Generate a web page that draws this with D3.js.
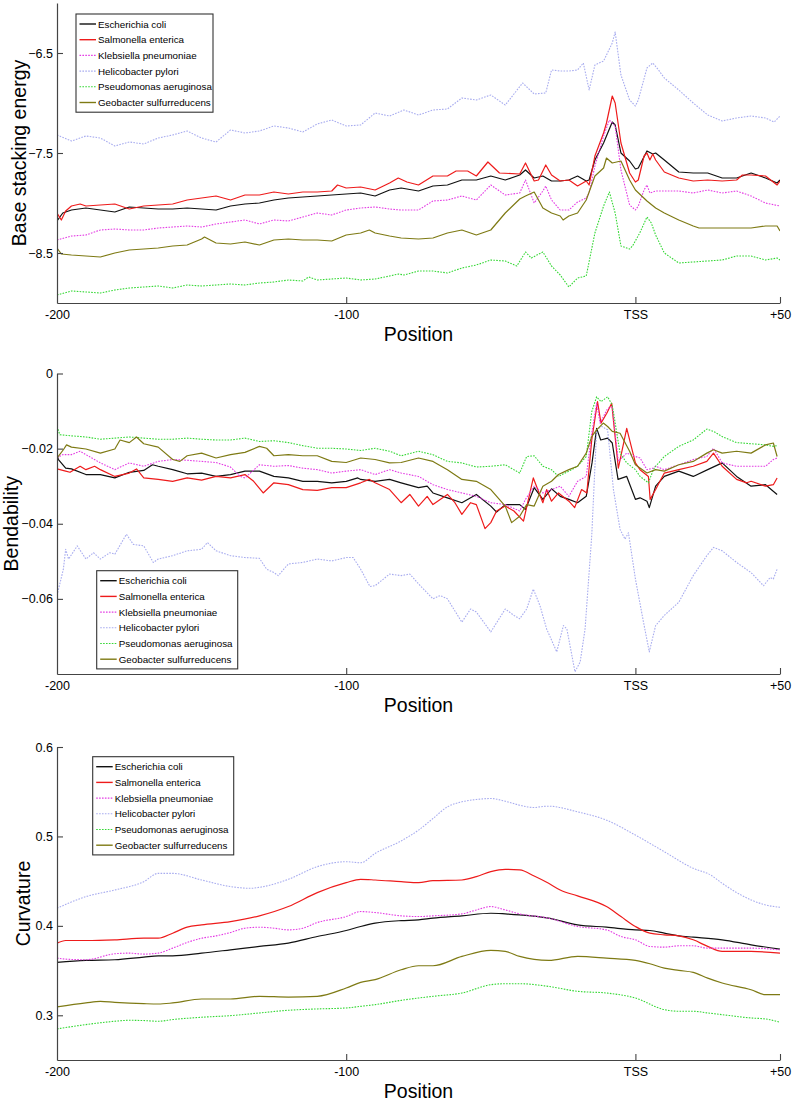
<!DOCTYPE html>
<html>
<head>
<meta charset="utf-8">
<title>Promoter structural profiles</title>
<script src="https://d3js.org/d3.v7.min.js"></script>
<style>
  body { margin: 0; background: white; }
  svg text { font-family: "Liberation Sans", Arial, Helvetica, sans-serif; fill: black; }
</style>
</head>
<body>
<svg id="chart" width="794" height="1102"></svg>
<script>
// species, same order in every panel (and in the legends)
var species = ["Escherichia coli", "Salmonella enterica", "Klebsiella pneumoniae",
               "Helicobacter pylori", "Pseudomonas aeruginosa", "Geobacter sulfurreducens"];
var colors = ["#111111", "#ee1b1b", "#e43ce4", "#a8acef", "#35d835", "#7e7a14"];
var dashes = [null, null, "1.6,1.3", "1.6,1.3", "1.6,1.3", null];

var xTicks = [-200, -100, 0, 50];
var xTickLabels = ["-200", "-100", "TSS", "+50"];

// ---- panel 1: base stacking energy, [position, value]
var ecoliBSE = [[-200,-8.18],[-198,-8.10],[-195,-8.07],[-190,-8.05],[-185,-8.07],[-180,-8.09],[-175,-8.04],[-170,-8.05],[-165,-8.06],[-160,-8.06],[-155,-8.05],[-150,-8.06],[-145,-8.07],[-140,-8.03],[-135,-8.01],[-130,-8.00],[-125,-7.97],[-120,-7.95],[-115,-7.94],[-110,-7.93],[-105,-7.92],[-100,-7.91],[-95,-7.90],[-90,-7.93],[-85,-7.87],[-81,-7.85],[-75,-7.88],[-70,-7.83],[-65,-7.82],[-60,-7.77],[-55,-7.77],[-50,-7.73],[-45,-7.77],[-40,-7.72],[-38,-7.67],[-35,-7.75],[-32,-7.73],[-29,-7.78],[-26,-7.78],[-23,-7.77],[-20,-7.73],[-17,-7.78],[-16,-7.77],[-14,-7.57],[-11,-7.40],[-8,-7.19],[-7,-7.22],[-5,-7.50],[-2,-7.58],[0,-7.66],[1,-7.65],[4,-7.48],[6,-7.51],[7,-7.50],[10,-7.57],[15,-7.69],[20,-7.70],[25,-7.70],[30,-7.75],[35,-7.75],[40,-7.70],[45,-7.75],[49,-7.80],[50,-7.77]];
var salmoBSE = [[-200,-8.10],[-198.5,-8.17],[-197,-8.08],[-195,-8.03],[-192,-8.01],[-190,-8.03],[-185,-8.02],[-180,-8.01],[-175,-8.06],[-170,-8.03],[-165,-8.02],[-160,-8.01],[-155,-7.97],[-150,-7.95],[-145,-7.93],[-140,-7.97],[-135,-7.92],[-130,-7.92],[-125,-7.89],[-120,-7.91],[-115,-7.89],[-110,-7.89],[-105,-7.88],[-103,-7.82],[-100,-7.85],[-95,-7.84],[-90,-7.87],[-85,-7.80],[-82,-7.75],[-79,-7.79],[-75,-7.82],[-70,-7.73],[-65,-7.73],[-62,-7.68],[-58,-7.68],[-55,-7.73],[-51,-7.59],[-47,-7.70],[-40,-7.71],[-38,-7.60],[-35,-7.78],[-33.5,-7.77],[-31,-7.62],[-29,-7.72],[-26,-7.78],[-23,-7.77],[-20,-7.83],[-17,-7.78],[-16,-7.82],[-14,-7.53],[-11,-7.30],[-10,-7.20],[-8,-6.93],[-7,-7.00],[-5,-7.40],[-2,-7.70],[0,-7.79],[1,-7.77],[3,-7.53],[4,-7.50],[5,-7.57],[6,-7.51],[7,-7.57],[10,-7.69],[15,-7.75],[20,-7.78],[25,-7.77],[30,-7.78],[35,-7.77],[37,-7.72],[40,-7.72],[45,-7.73],[49,-7.82],[50,-7.78]];
var klebBSE = [[-200,-8.37],[-195,-8.33],[-190,-8.32],[-185,-8.27],[-180,-8.26],[-175,-8.27],[-170,-8.27],[-165,-8.25],[-160,-8.24],[-155,-8.23],[-150,-8.24],[-145,-8.21],[-140,-8.19],[-135,-8.17],[-130,-8.21],[-125,-8.17],[-120,-8.18],[-115,-8.14],[-110,-8.10],[-105,-8.12],[-100,-8.07],[-95,-8.05],[-90,-8.04],[-85,-8.06],[-81,-8.07],[-75,-8.07],[-70,-7.98],[-65,-7.97],[-60,-7.93],[-55,-7.97],[-50,-7.82],[-45,-7.92],[-40,-7.90],[-38,-7.77],[-35,-8.00],[-32,-7.88],[-31,-7.83],[-29,-7.97],[-26,-8.07],[-23,-8.07],[-20,-7.99],[-17,-7.95],[-16,-7.90],[-14,-7.63],[-11,-7.33],[-9,-7.17],[-7,-7.23],[-5,-7.67],[-2,-8.02],[0,-8.07],[1,-8.03],[3,-7.87],[4,-7.82],[5,-7.90],[7,-7.88],[10,-7.88],[15,-7.88],[20,-7.90],[25,-7.87],[30,-7.90],[35,-7.88],[40,-7.93],[45,-8.00],[50,-8.03]];
var heliBSE = [[-200,-7.32],[-195,-7.38],[-190,-7.33],[-185,-7.35],[-180,-7.43],[-175,-7.39],[-170,-7.41],[-165,-7.35],[-160,-7.32],[-155,-7.28],[-150,-7.35],[-145,-7.39],[-140,-7.27],[-135,-7.30],[-130,-7.28],[-125,-7.23],[-120,-7.25],[-115,-7.29],[-110,-7.21],[-105,-7.17],[-100,-7.23],[-95,-7.22],[-90,-7.10],[-85,-7.13],[-80,-7.07],[-75,-7.12],[-70,-7.07],[-65,-7.06],[-60,-6.95],[-55,-6.97],[-50,-6.92],[-45,-7.02],[-39,-6.80],[-35,-6.91],[-31,-6.90],[-29,-6.67],[-26,-6.68],[-23,-6.68],[-20,-6.67],[-18,-6.60],[-16,-6.87],[-14,-6.62],[-11,-6.58],[-8,-6.40],[-7,-6.29],[-5,-6.72],[-2,-6.97],[0,-7.03],[1,-6.97],[4,-6.65],[6,-6.60],[8,-6.67],[10,-6.75],[15,-6.87],[20,-7.00],[25,-7.12],[30,-7.18],[35,-7.15],[40,-7.13],[45,-7.15],[48,-7.19],[50,-7.13]];
var pseuBSE = [[-200,-8.92],[-195,-8.88],[-190,-8.89],[-185,-8.90],[-180,-8.87],[-175,-8.85],[-170,-8.84],[-165,-8.83],[-160,-8.85],[-155,-8.82],[-150,-8.83],[-145,-8.82],[-140,-8.81],[-135,-8.82],[-130,-8.80],[-125,-8.79],[-120,-8.77],[-115,-8.78],[-113,-8.74],[-110,-8.77],[-105,-8.76],[-100,-8.75],[-95,-8.77],[-90,-8.76],[-85,-8.73],[-82,-8.71],[-80,-8.72],[-75,-8.68],[-70,-8.68],[-65,-8.70],[-60,-8.65],[-55,-8.62],[-50,-8.57],[-45,-8.58],[-41,-8.63],[-38,-8.49],[-36,-8.55],[-32,-8.49],[-29,-8.63],[-26,-8.72],[-23,-8.84],[-20,-8.75],[-17,-8.73],[-14,-8.30],[-11,-8.03],[-9,-7.89],[-7,-8.10],[-5,-8.43],[-2,-8.46],[-1,-8.43],[1.5,-8.30],[4,-8.14],[5.5,-8.20],[7,-8.32],[10,-8.50],[15,-8.60],[20,-8.59],[25,-8.58],[30,-8.57],[35,-8.53],[40,-8.53],[45,-8.57],[49,-8.55],[50,-8.57]];
var geoBSE = [[-200,-8.45],[-198.5,-8.51],[-195,-8.52],[-190,-8.53],[-185,-8.54],[-180,-8.50],[-175,-8.47],[-170,-8.46],[-165,-8.45],[-160,-8.43],[-155,-8.42],[-150,-8.36],[-149,-8.34],[-145,-8.40],[-140,-8.41],[-135,-8.39],[-130,-8.42],[-125,-8.37],[-120,-8.36],[-115,-8.37],[-110,-8.37],[-105,-8.38],[-100,-8.32],[-95,-8.30],[-92,-8.27],[-90,-8.30],[-85,-8.33],[-81,-8.35],[-75,-8.36],[-70,-8.35],[-65,-8.30],[-60,-8.27],[-55,-8.32],[-50,-8.27],[-45,-8.10],[-40,-7.96],[-38,-7.93],[-35,-7.89],[-32,-8.05],[-29,-8.10],[-26,-8.13],[-25,-8.17],[-23,-8.13],[-20,-8.10],[-17,-7.97],[-14,-7.73],[-11,-7.65],[-10,-7.55],[-8,-7.60],[-5,-7.58],[-2,-7.77],[0,-7.87],[4,-7.98],[7,-8.05],[10,-8.10],[15,-8.17],[20,-8.23],[22,-8.25],[25,-8.25],[30,-8.25],[35,-8.25],[40,-8.25],[45,-8.23],[49,-8.23],[50,-8.28]];

// ---- panel 2: bendability
var ecoliBend = [[-200,-0.0219],[-199.5,-0.0229],[-197,-0.0252],[-195,-0.0254],[-190,-0.0269],[-185,-0.0269],[-180,-0.0278],[-175,-0.0263],[-170,-0.0258],[-167,-0.0243],[-165,-0.0247],[-160,-0.0256],[-155,-0.0267],[-150,-0.0265],[-145,-0.0274],[-140,-0.0269],[-135,-0.0260],[-130,-0.0260],[-125,-0.0274],[-120,-0.0278],[-115,-0.0287],[-110,-0.0287],[-105,-0.0291],[-100,-0.0287],[-96,-0.0278],[-95,-0.0282],[-90,-0.0287],[-85,-0.0282],[-81,-0.0291],[-75,-0.0304],[-72,-0.0300],[-70,-0.0318],[-65,-0.0331],[-60,-0.0344],[-55,-0.0322],[-50,-0.0353],[-48,-0.0369],[-45,-0.0349],[-40,-0.0349],[-38,-0.0362],[-35,-0.0304],[-32,-0.0335],[-29,-0.0307],[-26,-0.0327],[-23,-0.0335],[-20,-0.0344],[-17,-0.0327],[-15,-0.0238],[-13.4,-0.0146],[-12,-0.0177],[-9.6,-0.0172],[-8,-0.0185],[-6,-0.0282],[-3,-0.0274],[0,-0.0335],[1.6,-0.0331],[4,-0.0340],[4.8,-0.0357],[7,-0.0300],[10,-0.0274],[15,-0.0260],[20,-0.0274],[25,-0.0256],[30,-0.0238],[35,-0.0274],[40,-0.0300],[45,-0.0296],[49,-0.0322]];
var salmoBend = [[-200,-0.0254],[-197,-0.0260],[-195.5,-0.0263],[-192,-0.0247],[-190,-0.0256],[-187,-0.0247],[-185,-0.0256],[-180,-0.0274],[-175,-0.0265],[-172.5,-0.0254],[-170,-0.0278],[-165,-0.0282],[-160,-0.0287],[-155,-0.0278],[-150,-0.0284],[-145,-0.0274],[-140,-0.0278],[-135,-0.0269],[-132,-0.0287],[-128.7,-0.0318],[-125,-0.0291],[-120,-0.0296],[-115,-0.0309],[-110,-0.0311],[-105,-0.0304],[-100,-0.0304],[-95,-0.0291],[-92,-0.0282],[-90,-0.0291],[-85,-0.0309],[-81,-0.0344],[-78,-0.0322],[-75,-0.0353],[-72,-0.0327],[-70,-0.0349],[-65,-0.0322],[-62.4,-0.0344],[-60,-0.0375],[-57,-0.0344],[-55,-0.0349],[-52,-0.0413],[-50,-0.0397],[-48,-0.0366],[-45,-0.0353],[-42,-0.0366],[-38.7,-0.0393],[-35.3,-0.0278],[-32,-0.0344],[-30.7,-0.0309],[-29,-0.0340],[-26.6,-0.0318],[-23,-0.0340],[-21,-0.0357],[-18.6,-0.0309],[-16.8,-0.0318],[-15.1,-0.0177],[-13.1,-0.0075],[-11.9,-0.0132],[-9.9,-0.0106],[-8.2,-0.0079],[-5.9,-0.0252],[-3,-0.0146],[0,-0.0238],[1.6,-0.0256],[4.5,-0.0274],[5.1,-0.0335],[7,-0.0309],[10,-0.0265],[15,-0.0256],[20,-0.0247],[24.7,-0.0234],[27,-0.0212],[30,-0.0247],[35,-0.0282],[38.5,-0.0291],[40,-0.0287],[45,-0.0300],[47.7,-0.0296],[49,-0.0278]];
var klebBend = [[-200,-0.0225],[-198,-0.0216],[-195,-0.0216],[-192,-0.0207],[-190,-0.0216],[-185,-0.0238],[-180,-0.0256],[-175,-0.0238],[-170,-0.0247],[-165,-0.0234],[-160,-0.0229],[-155,-0.0231],[-150,-0.0234],[-145,-0.0237],[-140,-0.0249],[-136.7,-0.0274],[-135,-0.0278],[-130,-0.0243],[-125,-0.0247],[-120,-0.0245],[-115,-0.0252],[-110,-0.0256],[-105,-0.0265],[-100,-0.0260],[-95,-0.0256],[-90,-0.0269],[-85,-0.0256],[-81,-0.0265],[-75,-0.0274],[-70,-0.0296],[-65,-0.0309],[-60,-0.0318],[-55,-0.0327],[-50,-0.0344],[-45,-0.0349],[-40,-0.0366],[-38,-0.0335],[-35,-0.0300],[-32,-0.0318],[-29,-0.0309],[-26,-0.0300],[-23,-0.0327],[-20,-0.0287],[-17,-0.0274],[-15.1,-0.0159],[-13.4,-0.0079],[-12.2,-0.0132],[-9.6,-0.0093],[-8,-0.0088],[-5.9,-0.0234],[-3,-0.0212],[0,-0.0221],[1.6,-0.0225],[4,-0.0256],[6.2,-0.0252],[7,-0.0247],[10,-0.0256],[15,-0.0243],[20,-0.0229],[24.7,-0.0221],[27,-0.0199],[30,-0.0238],[35,-0.0247],[40,-0.0247],[45,-0.0247],[47.7,-0.0229],[49,-0.0225]];
var heliBend = [[-200,-0.0591],[-197.8,-0.0521],[-197,-0.0468],[-196,-0.0494],[-193,-0.0459],[-190,-0.0494],[-187.4,-0.0477],[-185,-0.0494],[-181.7,-0.0477],[-180,-0.0481],[-176,-0.0428],[-173.6,-0.0455],[-170,-0.0459],[-166.7,-0.0503],[-165,-0.0494],[-160,-0.0485],[-155,-0.0472],[-150,-0.0468],[-148,-0.0450],[-145,-0.0472],[-140,-0.0485],[-135,-0.0490],[-130,-0.0492],[-127.5,-0.0521],[-125,-0.0530],[-123.5,-0.0538],[-120,-0.0507],[-115,-0.0503],[-110,-0.0494],[-105,-0.0499],[-100,-0.0490],[-97.6,-0.0490],[-95,-0.0521],[-91.8,-0.0567],[-90,-0.0565],[-85,-0.0534],[-81,-0.0538],[-78,-0.0534],[-75,-0.0560],[-70,-0.0600],[-67.5,-0.0591],[-65,-0.0600],[-60,-0.0662],[-57,-0.0627],[-55,-0.0635],[-50,-0.0688],[-45,-0.0627],[-42,-0.0644],[-40,-0.0653],[-37.6,-0.0627],[-35.3,-0.0574],[-33,-0.0618],[-30.7,-0.0680],[-27.2,-0.0741],[-24.9,-0.0671],[-23.7,-0.0680],[-20.9,-0.0794],[-19.1,-0.0768],[-17.4,-0.0680],[-15.1,-0.0432],[-13.4,-0.0150],[-11.6,-0.0141],[-9.6,-0.0150],[-7.6,-0.0309],[-5.3,-0.0415],[-3.6,-0.0441],[-2.4,-0.0424],[0,-0.0547],[2.8,-0.0662],[4.8,-0.0741],[7,-0.0671],[10,-0.0644],[15,-0.0609],[20,-0.0538],[24.7,-0.0485],[27,-0.0463],[30,-0.0472],[35,-0.0503],[40,-0.0530],[44.3,-0.0565],[46.6,-0.0543],[47.7,-0.0547],[49,-0.0521]];
var pseuBend = [[-200,-0.0141],[-199,-0.0163],[-195,-0.0166],[-190,-0.0169],[-185,-0.0175],[-180,-0.0172],[-175,-0.0169],[-170,-0.0172],[-165,-0.0175],[-160,-0.0175],[-155,-0.0172],[-150,-0.0175],[-145,-0.0177],[-140,-0.0177],[-135,-0.0172],[-130,-0.0181],[-125,-0.0179],[-120,-0.0184],[-115,-0.0192],[-110,-0.0199],[-105,-0.0199],[-100,-0.0201],[-95,-0.0205],[-90,-0.0199],[-85,-0.0207],[-81,-0.0219],[-75,-0.0207],[-70,-0.0216],[-65,-0.0234],[-60,-0.0238],[-55,-0.0249],[-50,-0.0247],[-45,-0.0243],[-40,-0.0265],[-37.6,-0.0221],[-35,-0.0219],[-32,-0.0247],[-29,-0.0256],[-26.6,-0.0274],[-23,-0.0260],[-20,-0.0247],[-17,-0.0221],[-15.1,-0.0102],[-13.4,-0.0062],[-11.9,-0.0075],[-9.6,-0.0062],[-8,-0.0084],[-5.3,-0.0212],[-3,-0.0238],[0,-0.0256],[1.6,-0.0274],[4.5,-0.0291],[6.2,-0.0256],[7,-0.0247],[10,-0.0221],[15,-0.0194],[20,-0.0177],[24.7,-0.0148],[27,-0.0154],[30,-0.0168],[35,-0.0184],[40,-0.0187],[45,-0.0190],[47.7,-0.0194],[49,-0.0192]];
var geoBend = [[-200,-0.0225],[-197.8,-0.0203],[-196.7,-0.0190],[-195,-0.0196],[-190,-0.0201],[-185,-0.0212],[-180,-0.0201],[-178.2,-0.0177],[-175,-0.0184],[-172.5,-0.0169],[-170,-0.0187],[-165,-0.0196],[-160,-0.0229],[-157.5,-0.0234],[-155,-0.0219],[-150,-0.0212],[-145,-0.0225],[-140,-0.0216],[-135,-0.0210],[-130,-0.0194],[-127.5,-0.0199],[-125,-0.0219],[-120,-0.0216],[-115,-0.0219],[-110,-0.0219],[-105,-0.0234],[-100,-0.0237],[-95,-0.0225],[-90,-0.0229],[-85,-0.0238],[-81,-0.0237],[-75,-0.0225],[-70,-0.0234],[-65,-0.0256],[-60,-0.0282],[-55,-0.0287],[-50,-0.0309],[-45,-0.0353],[-42.8,-0.0397],[-40,-0.0380],[-37.6,-0.0349],[-35,-0.0353],[-32,-0.0300],[-29,-0.0287],[-26.6,-0.0269],[-23,-0.0256],[-20,-0.0247],[-17,-0.0212],[-15.1,-0.0168],[-13.4,-0.0150],[-11.1,-0.0132],[-9.6,-0.0141],[-8,-0.0154],[-5.3,-0.0159],[-2,-0.0207],[0,-0.0243],[4,-0.0265],[7,-0.0256],[10,-0.0260],[15,-0.0243],[20,-0.0234],[24.7,-0.0212],[27,-0.0203],[30,-0.0212],[35,-0.0207],[40,-0.0212],[45,-0.0190],[47.7,-0.0185],[49,-0.0221]];

// ---- panel 3: curvature
var ecoliCurv = [[-200,0.3591],[-190,0.3613],[-180,0.3621],[-170,0.3651],[-165,0.3665],[-160,0.3665],[-150,0.3695],[-140,0.3732],[-130,0.3770],[-120,0.3807],[-110,0.3881],[-100,0.3948],[-95,0.3993],[-90,0.4030],[-81,0.4059],[-75,0.4067],[-70,0.4086],[-60,0.4112],[-50,0.4141],[-45,0.4134],[-40,0.4123],[-30,0.4086],[-20,0.4011],[-10,0.3985],[0,0.3955],[5,0.3948],[10,0.3918],[15,0.3888],[20,0.3874],[30,0.3844],[40,0.3788],[50,0.3740]];
var salmoCurv = [[-200,0.3807],[-197,0.3836],[-190,0.3836],[-180,0.3844],[-170,0.3862],[-165,0.3862],[-160,0.3918],[-155,0.3985],[-150,0.4011],[-140,0.4048],[-130,0.4112],[-120,0.4216],[-110,0.4372],[-100,0.4483],[-95,0.4520],[-90,0.4513],[-81,0.4494],[-75,0.4483],[-70,0.4506],[-60,0.4513],[-55,0.4550],[-50,0.4606],[-45,0.4632],[-40,0.4625],[-35,0.4558],[-30,0.4476],[-26,0.4401],[-20,0.4335],[-10,0.4216],[-5,0.4104],[0,0.3993],[5,0.3918],[10,0.3900],[15,0.3888],[20,0.3844],[25,0.3770],[30,0.3714],[40,0.3714],[50,0.3695]];
var klebCurv = [[-200,0.3639],[-197,0.3628],[-190,0.3621],[-180,0.3688],[-175,0.3695],[-170,0.3684],[-165,0.3695],[-160,0.3751],[-155,0.3814],[-150,0.3862],[-145,0.3888],[-140,0.3926],[-135,0.3974],[-130,0.3985],[-125,0.3974],[-120,0.3955],[-115,0.3974],[-110,0.4037],[-100,0.4104],[-95,0.4160],[-90,0.4149],[-81,0.4112],[-75,0.4104],[-70,0.4112],[-60,0.4134],[-55,0.4178],[-50,0.4216],[-45,0.4178],[-40,0.4134],[-30,0.4086],[-20,0.3993],[-10,0.3955],[-5,0.3881],[0,0.3844],[5,0.3770],[10,0.3762],[15,0.3777],[20,0.3777],[25,0.3751],[30,0.3751],[40,0.3751],[50,0.3732]];
var heliCurv = [[-200,0.4197],[-190,0.4327],[-180,0.4401],[-170,0.4494],[-165,0.4587],[-160,0.4587],[-150,0.4513],[-140,0.4439],[-133,0.4420],[-130,0.4431],[-120,0.4520],[-110,0.4662],[-100,0.4717],[-95,0.4706],[-90,0.4810],[-81,0.4950],[-75,0.5070],[-70,0.5200],[-65,0.5331],[-60,0.5387],[-55,0.5413],[-50,0.5424],[-45,0.5394],[-40,0.5349],[-35,0.5323],[-33,0.5331],[-30,0.5338],[-20,0.5275],[-10,0.5182],[0,0.5015],[10,0.4829],[20,0.4643],[26,0.4569],[30,0.4476],[40,0.4290],[45,0.4234],[50,0.4208]];
var pseuCurv = [[-200,0.2848],[-190,0.2896],[-180,0.2933],[-175,0.2944],[-170,0.2941],[-165,0.2933],[-160,0.2952],[-150,0.2978],[-140,0.2996],[-130,0.3026],[-120,0.3056],[-110,0.3071],[-100,0.3082],[-95,0.3100],[-90,0.3119],[-81,0.3167],[-75,0.3193],[-70,0.3212],[-60,0.3249],[-50,0.3342],[-45,0.3353],[-40,0.3353],[-30,0.3323],[-20,0.3268],[-10,0.3249],[0,0.3193],[10,0.3063],[15,0.3045],[20,0.3045],[25,0.3026],[30,0.3007],[40,0.2970],[45,0.2959],[50,0.2922]];
var geoCurv = [[-200,0.3093],[-190,0.3138],[-185,0.3156],[-180,0.3145],[-170,0.3130],[-165,0.3126],[-160,0.3138],[-150,0.3182],[-140,0.3182],[-130,0.3212],[-120,0.3204],[-110,0.3212],[-100,0.3305],[-95,0.3368],[-90,0.3398],[-81,0.3509],[-75,0.3554],[-70,0.3554],[-60,0.3658],[-50,0.3725],[-45,0.3714],[-40,0.3658],[-30,0.3613],[-20,0.3658],[-10,0.3639],[0,0.3613],[5,0.3576],[10,0.3528],[15,0.3502],[20,0.3480],[25,0.3416],[30,0.3361],[40,0.3286],[45,0.3230],[50,0.3230]];

// y ticks per panel
var bseTicks = [-6.5, -7.5, -8.5];
var bendTicks = [0, -0.02, -0.04, -0.06];
var curvTicks = [0.3, 0.4, 0.5, 0.6];

// layout of the three panels (pixels)
var panels = [
  { label: "Base stacking energy", top: 3, bottom: 303, domain: [-9, -6], ticks: bseTicks, fmt: d3.format(".1f"),
    series: [ecoliBSE, salmoBSE, klebBSE, heliBSE, pseuBSE, geoBSE], curve: d3.curveLinear,
    labelX: 25.5, legend: { x: 76, y: 14, w: 137 } },
  { label: "Bendability", top: 373.5, bottom: 674, domain: [-0.08, 0], ticks: bendTicks, fmt: function(d) { return d === 0 ? "0" : d3.format(".2f")(d); },
    series: [ecoliBend, salmoBend, klebBend, heliBend, pseuBend, geoBend], curve: d3.curveLinear,
    labelX: 17.5, legend: { x: 96.7, y: 570.7, w: 141 } },
  { label: "Curvature", top: 747, bottom: 1060, domain: [0.25, 0.6], ticks: curvTicks, fmt: d3.format(".1f"),
    series: [ecoliCurv, salmoCurv, klebCurv, heliCurv, pseuCurv, geoCurv], curve: d3.curveMonotoneX,
    labelX: 29.5, legend: { x: 92.7, y: 756.7, w: 141 } }
];

var left = 57, right = 780;
var svg = d3.select("#chart");

var x = d3.scaleLinear().domain([-200, 50]).range([left, right]);

panels.forEach(function(p, pi) {
  var y = d3.scaleLinear().domain(p.domain).range([p.bottom, p.top]);
  var g = svg.append("g");

  // clip lines to the plot box
  g.append("clipPath").attr("id", "clip" + pi)
    .append("rect").attr("x", left).attr("y", p.top)
    .attr("width", right - left).attr("height", p.bottom - p.top);

  var line = d3.line()
    .x(function(d) { return x(d[0]); })
    .y(function(d) { return y(d[1]); })
    .curve(p.curve);

  p.series.forEach(function(s, i) {
    g.append("path")
      .datum(s)
      .attr("clip-path", "url(#clip" + pi + ")")
      .attr("fill", "none")
      .attr("stroke", colors[i])
      .attr("stroke-width", dashes[i] ? 1.1 : 1.2)
      .attr("stroke-dasharray", dashes[i])
      .attr("stroke-linejoin", "round")
      .attr("d", line);
  });

  // axes, ticks drawn inward
  var xAxis = d3.axisBottom(x).tickValues(xTicks)
    .tickFormat(function(d, i) { return xTickLabels[i]; })
    .tickSizeInner(-6).tickSizeOuter(0).tickPadding(7);
  var gx = g.append("g").attr("transform", "translate(0," + p.bottom + ")").call(xAxis);

  var yAxis = d3.axisLeft(y).tickValues(p.ticks).tickFormat(p.fmt)
    .tickSizeInner(-6).tickSizeOuter(0).tickPadding(4);
  var gy = g.append("g").attr("transform", "translate(" + left + ",0)").call(yAxis);

  [gx, gy].forEach(function(a) {
    a.select(".domain").attr("stroke", "#444").attr("stroke-width", 1.2);
    a.selectAll(".tick line").attr("stroke", "#444").attr("stroke-width", 1.1);
    a.selectAll(".tick text").attr("font-size", "12.5px").attr("font-family", null).attr("fill", "black");
  });
  gx.selectAll(".tick").filter(function(d) { return d === -200; }).select("line").remove();

  // axis titles
  g.append("text")
    .attr("x", (left + right) / 2).attr("y", p.bottom + 38)
    .attr("text-anchor", "middle").attr("font-size", "19.5px")
    .text("Position");
  g.append("text")
    .attr("transform", "translate(" + p.labelX + "," + ((p.top + p.bottom) / 2) + ") rotate(-90)")
    .attr("text-anchor", "middle").attr("font-size", "19.5px")
    .text(p.label);

  // legend
  var L = p.legend, rowH = 15.7;
  var lg = g.append("g").attr("transform", "translate(" + L.x + "," + L.y + ")");
  lg.append("rect").attr("width", L.w).attr("height", rowH * 6 + 4)
    .attr("fill", "white").attr("stroke", "#333").attr("stroke-width", 1.1);
  species.forEach(function(name, i) {
    var cy = 10 + i * rowH;
    lg.append("line").attr("x1", 3.5).attr("x2", 20).attr("y1", cy).attr("y2", cy)
      .attr("stroke", colors[i]).attr("stroke-width", dashes[i] ? 1.1 : 1.4)
      .attr("stroke-dasharray", dashes[i]);
    lg.append("text").attr("x", 22).attr("y", cy + 3.6)
      .attr("font-size", "9.8px").text(name);
  });
});
</script>
</body>
</html>
